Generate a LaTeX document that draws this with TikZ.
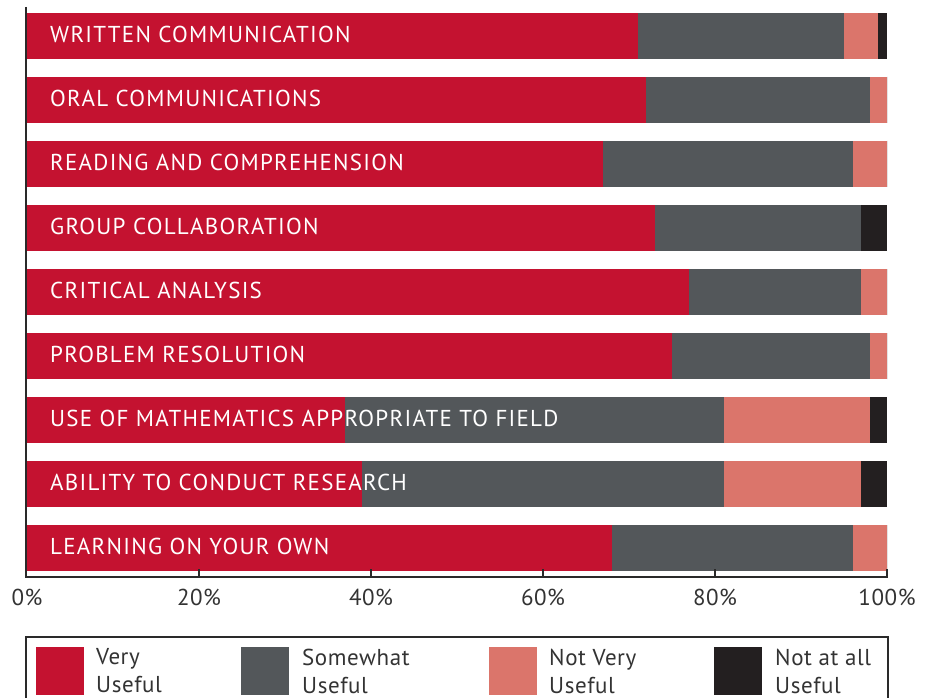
\documentclass[tikz,border=0pt]{standalone}
\usepackage{fontspec}
\setmainfont{PT Sans}
\newfontfamily\barfont[LetterSpace=5.5]{PT Sans}
\newfontfamily\legfont[LetterSpace=2.5]{PT Sans}
\definecolor{cred}{HTML}{C41230}
\definecolor{cgray}{HTML}{53575A}
\definecolor{cpink}{HTML}{DB756B}
\definecolor{cblack}{HTML}{231F20}
\definecolor{ctext}{HTML}{333333}
\definecolor{caxis}{HTML}{2A2A2A}
\begin{document}
\begin{tikzpicture}[x=1pt,y=-1pt,
  barlabel/.style={anchor=base west,text=white,font=\barfont\fontsize{23}{23}\selectfont,inner sep=0pt},
  ticklabel/.style={text=ctext,font=\legfont\fontsize{23}{23}\selectfont,inner sep=0pt},
  legtext/.style={anchor=west,text=ctext,font=\legfont\fontsize{23}{28}\selectfont,align=left,inner sep=0pt},
  axisline/.style={draw=caxis,line width=2pt}]
\useasboundingbox (0,0) rectangle (930,698);
\def\xz{27}
\def\sc{8.6}
\foreach \i/\a/\b/\c/\lab in {
  1/71/95/99/WRITTEN COMMUNICATION,
  2/72/98/100/ORAL COMMUNICATIONS,
  3/67/96/100/READING AND COMPREHENSION,
  4/73/97/97/GROUP COLLABORATION,
  5/77/97/100/CRITICAL ANALYSIS,
  6/75/98/100/PROBLEM RESOLUTION,
  7/37/81/98/USE OF MATHEMATICS APPROPRIATE TO FIELD,
  8/39/81/97/ABILITY TO CONDUCT RESEARCH,
  9/68/96/100/LEARNING ON YOUR OWN}{
  \pgfmathsetmacro{\yt}{13+64*(\i-1)}
  \pgfmathsetmacro{\yb}{\yt+46}
  \pgfmathsetmacro{\xa}{\xz+\sc*\a}
  \pgfmathsetmacro{\xb}{\xz+\sc*\b}
  \pgfmathsetmacro{\xc}{\xz+\sc*\c}
  \pgfmathsetmacro{\xd}{\xz+\sc*100}
  \fill[cred] (\xz,\yt) rectangle (\xa,\yb);
  \fill[cgray] (\xa,\yt) rectangle (\xb,\yb);
  \fill[cpink] (\xb,\yt) rectangle (\xc,\yb);
  \fill[cblack] (\xc,\yt) rectangle (\xd,\yb);
  \node[barlabel] (lab\i) at (50,\yt+29.5) {\lab};
}
% axes
\coordinate (o) at (26,577);
\coordinate (top) at (26,7);
\coordinate (xe) at (888,577);
\draw[axisline] (top) -- (o) -- (xe);
\foreach \p in {20,40,60,80,100}{
  \pgfmathsetmacro{\xt}{\xz+\sc*\p}
  \draw[axisline] (\xt,569) -- (\xt,577);
}
\foreach \p in {0,20,40,60,80,100}{
  \pgfmathsetmacro{\xt}{\xz+\sc*\p}
  \node[ticklabel] (t\p) at (\xt,597) {\p\%};
}
% legend
\draw[axisline] (26,699) -- (26,637) -- (888,637) -- (888,699);
\fill[cred] (36,647) rectangle (84,695);
\node[legtext] (l1) at (96,671) {Very\\Useful};
\fill[cgray] (241,647) rectangle (289,695);
\node[legtext] (l2) at (302,671) {Somewhat\\Useful};
\fill[cpink] (489,647) rectangle (537,695);
\node[legtext] (l3) at (549,671) {Not Very\\Useful};
\fill[cblack] (714,647) rectangle (762,695);
\node[legtext] (l4) at (775,671) {Not at all\\Useful};
\end{tikzpicture}
\end{document}
